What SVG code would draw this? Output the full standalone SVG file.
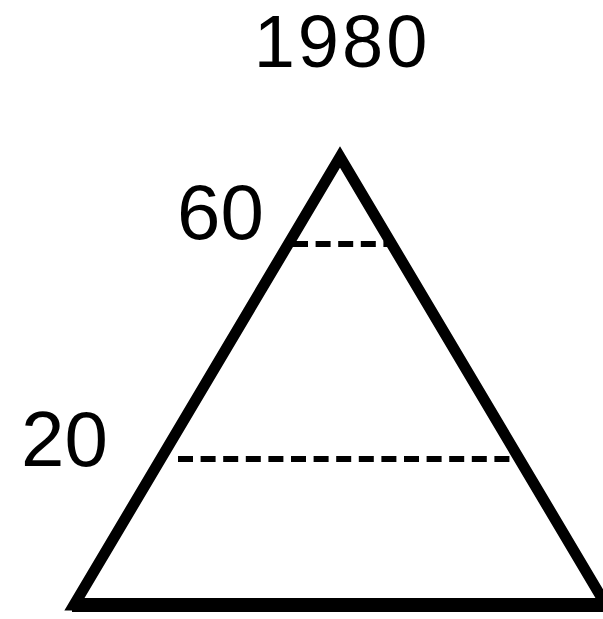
<svg xmlns="http://www.w3.org/2000/svg" width="603" height="619" viewBox="0 0 603 619">
<style>
.lbl{font-family:"Liberation Sans",Arial,sans-serif;font-size:78px;fill:#000}
.dash{stroke:#000;stroke-width:6;stroke-dasharray:15 7.6;fill:none}
.edge{stroke:#000;fill:none;stroke-linejoin:miter}
</style>
<rect width="603" height="619" fill="#fff"/>
<g id="title"><text class="lbl" x="342" y="67" text-anchor="middle" style="font-size:74px;letter-spacing:3px">1980</text></g>
<g id="connectors">
<line class="dash" x1="293" y1="244" x2="392" y2="244"/>
<line class="dash" x1="178" y1="459" x2="512" y2="459"/>
</g>
<g id="pyramid">
<polygon class="edge" points="340,157 74,605 606,605" stroke-width="11"/>
<line class="edge" x1="72" y1="605" x2="606" y2="605" stroke-width="14"/>
</g>
<g id="label60"><text class="lbl" x="177" y="239">60</text></g>
<g id="label20"><text class="lbl" x="21" y="466">20</text></g>
</svg>
